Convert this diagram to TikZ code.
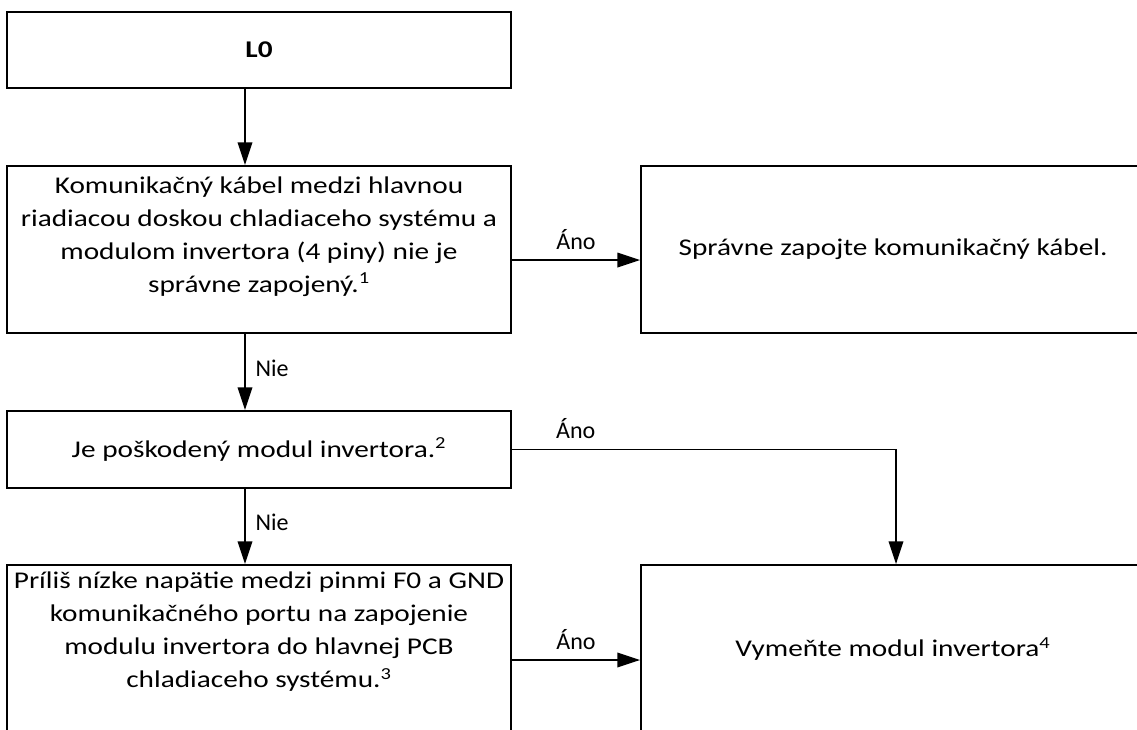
\documentclass[tikz,border=0pt]{standalone}
\usepackage{fontspec}
\setmainfont{Carlito}[FakeStretch=1.22]
\newfontfamily\lblfont{Carlito}
\usetikzlibrary{arrows.meta,positioning}
\definecolor{ink}{HTML}{000000}
\tikzset{
  box/.style={draw=ink, line width=1.5pt, align=center, inner sep=2pt,
    minimum width=378pt, font=\fontsize{18}{24.75}\selectfont},
  link/.style={-{Triangle[length=17pt, width=11pt]}, line width=1pt, draw=ink},
  lbl/.style={font=\lblfont\fontsize{18}{22}\selectfont, inner sep=2pt},
}
\newcommand{\fnum}[1]{\textsuperscript{#1}}

\begin{document}
\begin{tikzpicture}[x=0.75pt, y=-0.75pt]
  \useasboundingbox (0,0) rectangle (1137,729);
  \clip (0,0) rectangle (1137,729);
  \node[box, minimum height=57pt] (l0) at (259,50) {\textbf{L0}};
  \node[box, minimum height=125.25pt, text depth=23pt] (q1) at (259,249.5)
    {Komunikačný kábel medzi hlavnou\\ riadiacou doskou chladiaceho systému a\\
     modulom invertora (4 piny) nie je\\ správne zapojený.\fnum{1}};
  \node[box, minimum height=125.25pt] (r1) at (893,249.5)
    {Správne zapojte komunikačný kábel.};
  \node[box, minimum height=57.75pt] (q2) at (259,449.5)
    {Je poškodený modul invertora.\fnum{2}};
  \node[box, minimum height=142.5pt, text depth=45pt] (q3) at (259,660)
    {Príliš nízke napätie medzi pinmi F0 a GND\\ komunikačného portu na zapojenie\\
     modulu invertora do hlavnej PCB\\ chladiaceho systému.\fnum{3}};
  \node[box, minimum height=142.5pt, text depth=19pt] (r2) at (893,660)
    {Vymeňte modul invertora\fnum{4}};
  \draw[link] ([xshift=-10.5pt]l0.south) -- ([xshift=-10.5pt]q1.north);
  \draw[link] ([yshift=-7.9pt]q1.east) -- node[lbl, midway, above=5.5pt] {Áno} ([yshift=-7.9pt]r1.west);
  \draw[link] ([xshift=-10.5pt]q1.south) -- node[lbl, pos=0.45, right=5.5pt] {Nie} ([xshift=-10.5pt]q2.north);
  \draw[link] (q2.east) -| node[lbl, pos=0.083, above=5.5pt] {Áno} ([xshift=2.25pt]r2.north);
  \draw[link] ([xshift=-10.5pt]q2.south) -- node[lbl, pos=0.45, right=5.5pt] {Nie} ([xshift=-10.5pt]q3.north);
  \draw[link] (q3.east) -- node[lbl, midway, above=5.5pt] {Áno} (r2.west);
\end{tikzpicture}
\end{document}
